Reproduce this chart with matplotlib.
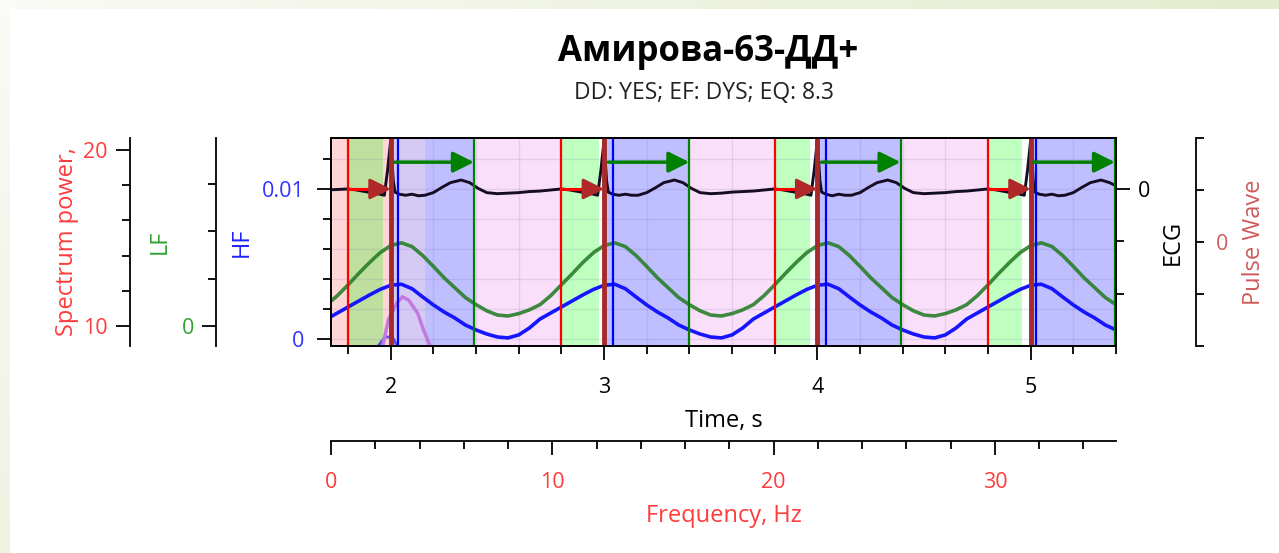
import numpy as np
import matplotlib.pyplot as plt
from matplotlib.ticker import MultipleLocator, FixedLocator, FuncFormatter

plt.rcParams['font.family'] = ['Open Sans', 'DejaVu Sans']

title = 'Амирова-63-ДД+'
subtitle = 'DD: YES; EF: DYS; EQ: 8.3'

# cardiac cycle markers, s
r_peaks = [2.0, 3.0, 4.0, 5.0]
red_lines = [1.80, 2.80, 3.80, 4.80]
blue_lines = [2.035, 3.04, 4.04, 5.025]
green_lines = [2.39, 3.40, 4.39, 5.395]
green_span_end = [1.965, 2.975, 3.965, 4.96]
red_span = [1.70, 2.16]

# LF / HF curves, sampled every 0.05 s from 1.70 s
t_curve = np.round(np.arange(1.70, 5.401, 0.05), 2)
lf = [0.45, 0.64, 0.87, 1.11, 1.34, 1.55, 1.70, 1.76, 1.68, 1.49,
      1.26, 1.02, 0.81, 0.60, 0.45, 0.32, 0.23, 0.21, 0.26, 0.34,
      0.45, 0.64, 0.87, 1.10, 1.34, 1.55, 1.70, 1.76, 1.68, 1.49,
      1.26, 1.02, 0.81, 0.60, 0.45, 0.32, 0.23, 0.21, 0.26, 0.34,
      0.45, 0.64, 0.87, 1.11, 1.34, 1.55, 1.70, 1.76, 1.68, 1.49,
      1.26, 1.02, 0.81, 0.60, 0.45, 0.32, 0.23, 0.21, 0.26, 0.34,
      0.45, 0.64, 0.87, 1.11, 1.34, 1.55, 1.70, 1.76, 1.68, 1.49,
      1.26, 1.02, 0.81, 0.60, 0.45]
hf = [0.00133, 0.00173, 0.00213, 0.00253, 0.00293, 0.00330, 0.00358, 0.00365, 0.00335, 0.00280,
      0.00227, 0.00180, 0.00140, 0.00093, 0.00060, 0.00033, 0.00013, 0.00007, 0.00027, 0.00073,
      0.00133, 0.00173, 0.00213, 0.00253, 0.00293, 0.00330, 0.00358, 0.00365, 0.00335, 0.00280,
      0.00227, 0.00180, 0.00140, 0.00093, 0.00060, 0.00033, 0.00013, 0.00007, 0.00027, 0.00073,
      0.00133, 0.00173, 0.00213, 0.00253, 0.00293, 0.00330, 0.00358, 0.00365, 0.00335, 0.00280,
      0.00227, 0.00180, 0.00140, 0.00093, 0.00060, 0.00033, 0.00013, 0.00007, 0.00027, 0.00073,
      0.00133, 0.00173, 0.00213, 0.00253, 0.00293, 0.00330, 0.00358, 0.00365, 0.00335, 0.00280,
      0.00227, 0.00180, 0.00140, 0.00093, 0.00060]

# ECG trace
ecg_t = [1.70, 1.75, 1.80, 1.84, 1.88, 1.92, 1.95, 1.97, 1.985, 2.00, 2.012, 2.02, 2.04, 2.07, 2.10,
         2.13, 2.16, 2.20, 2.24, 2.28, 2.33, 2.37, 2.41, 2.45, 2.50, 2.55, 2.60, 2.65, 2.70, 2.75,
         2.80, 2.84, 2.88, 2.92, 2.95, 2.97, 2.985, 3.00, 3.012, 3.02, 3.04, 3.07, 3.10,
         3.13, 3.16, 3.20, 3.24, 3.28, 3.33, 3.37, 3.41, 3.45, 3.50, 3.55, 3.60, 3.65, 3.70, 3.75,
         3.80, 3.84, 3.88, 3.92, 3.95, 3.97, 3.985, 4.00, 4.012, 4.02, 4.04, 4.07, 4.10,
         4.13, 4.16, 4.20, 4.24, 4.28, 4.33, 4.37, 4.41, 4.45, 4.50, 4.55, 4.60, 4.65, 4.70, 4.75,
         4.80, 4.84, 4.88, 4.92, 4.95, 4.97, 4.985, 5.00, 5.012, 5.02, 5.04, 5.07, 5.10,
         5.13, 5.16, 5.20, 5.24, 5.28, 5.33, 5.37, 5.40]
ecg_v = [-0.02, -0.01, 0.00, -0.02, -0.05, -0.08, -0.10, -0.12, 0.35, 0.93, 0.15, -0.06, -0.10, -0.12, -0.10,
         -0.13, -0.12, -0.07, 0.03, 0.12, 0.17, 0.12, 0.01, -0.07, -0.09, -0.08, -0.07, -0.05, -0.04, -0.02,
         0.00, -0.02, -0.05, -0.08, -0.10, -0.12, 0.35, 0.92, 0.15, -0.06, -0.10, -0.12, -0.10,
         -0.12, -0.12, -0.07, 0.02, 0.12, 0.17, 0.12, 0.01, -0.07, -0.09, -0.08, -0.06, -0.05, -0.04, -0.02,
         0.00, -0.02, -0.05, -0.08, -0.10, -0.12, 0.35, 0.93, 0.15, -0.06, -0.10, -0.13, -0.10,
         -0.12, -0.12, -0.07, 0.03, 0.12, 0.17, 0.12, 0.01, -0.07, -0.09, -0.08, -0.07, -0.05, -0.04, -0.02,
         0.00, -0.02, -0.05, -0.08, -0.10, -0.12, 0.35, 0.93, 0.15, -0.06, -0.10, -0.12, -0.10,
         -0.13, -0.12, -0.07, 0.03, 0.12, 0.17, 0.12, 0.06]

# spectrum (frequency, Hz / power)
spec_f = [2.32, 2.59, 3.0, 3.23, 3.5, 3.91, 4.18, 4.5]
spec_p = [8.75, 10.34, 11.36, 11.65, 11.48, 10.74, 9.77, 8.8]
spec2_f = [2.09, 2.45, 2.77, 3.0]
spec2_p = [8.8, 9.37, 9.37, 8.85]

W, H = 1279, 553
fig = plt.figure(figsize=(W / 100, H / 100), dpi=100)

# page background strips
top = fig.add_axes([0, 1 - 9 / H, 1, 9 / H], zorder=-5)
top.imshow(np.linspace([250, 250, 246], [228, 236, 206], 100)[None] / 255, aspect='auto')
top.axis('off')
left = fig.add_axes([0, 0, 10 / W, 1 - 9 / H], zorder=-5)
left.imshow(np.linspace([250, 250, 246], [238, 243, 225], 100)[:, None] / 255, aspect='auto')
left.axis('off')

rect = [331 / W, 1 - 346 / H, 785 / W, 208 / H]
ax = fig.add_axes(rect)
lw_sp = 1.3
TS = 15.5   # tick label size
LS = 17     # axis label size

def style(a):
    a.tick_params(which='major', length=10, width=lw_sp, labelsize=TS)
    a.tick_params(which='minor', length=6, width=lw_sp)
    for s in a.spines.values():
        s.set_linewidth(lw_sp)

# main axes: time / HF
ax.set_xlim(1.72, 5.40)
ax.set_ylim(-0.00047, 0.0134)
ax.xaxis.set_major_locator(MultipleLocator(1))
ax.xaxis.set_minor_locator(MultipleLocator(0.2))
ax.yaxis.set_major_locator(MultipleLocator(0.01))
ax.yaxis.set_minor_locator(MultipleLocator(0.002))
ax.yaxis.set_major_formatter(FuncFormatter(lambda v, p: f'{v:g}'))
ax.grid(which='both', color='#7060b0', alpha=0.15, lw=1)
style(ax)
ax.tick_params(axis='x', pad=12)
ax.tick_params(axis='y', labelcolor='#3333ff', pad=9)
ax.set_xlabel('Time, s', fontsize=LS, labelpad=8)
ax.set_ylabel('HF', color='#2222ff', fontsize=LS, labelpad=6)

# background phases
ax.axvspan(red_span[0], r_peaks[0], color='#ff3030', alpha=0.2, lw=0)
for i in range(len(r_peaks)):
    ax.axvspan(red_lines[i], green_span_end[i], color='#00ff00', alpha=0.25, lw=0)
    ax.axvspan(r_peaks[i] + 0.01, green_lines[i], color='#0000ff', alpha=0.25, lw=0)
    if i + 1 < len(r_peaks):
        ax.axvspan(green_lines[i], red_lines[i + 1], color='violet', alpha=0.25, lw=0)
ax.axvspan(r_peaks[0], red_span[1], color='#ffe0e0', alpha=0.35, lw=0)

ax.plot(t_curve, hf, color='#1515ff', lw=2.6, zorder=3, solid_joinstyle='round')

# LF axis
ax_lf = ax.twinx()
ax_lf.set_ylim(-0.426, 3.98)
for s in ['right', 'top', 'bottom']:
    ax_lf.spines[s].set_visible(False)
ax_lf.spines['left'].set_position(('axes', -0.1465))
ax_lf.yaxis.set_ticks_position('left')
ax_lf.yaxis.set_label_position('left')
ax_lf.yaxis.set_major_locator(FixedLocator([0]))
ax_lf.yaxis.set_minor_locator(MultipleLocator(1))
style(ax_lf)
ax_lf.tick_params(axis='y', labelcolor='#33a033', pad=6)
ax_lf.set_ylabel('LF', color='#33a033', fontsize=LS, labelpad=7)
ax_lf.plot(t_curve, lf, color='#2a7f2a', lw=2.6, alpha=0.9, solid_joinstyle='round')

# spectrum axes: frequency / power
ax_sp = fig.add_axes(rect)
ax_sp.patch.set_visible(False)
for s in ['right', 'top']:
    ax_sp.spines[s].set_visible(False)
ax_sp.spines['left'].set_position(('axes', -0.256))
ax_sp.spines['bottom'].set_position(('axes', -0.457))
ax_sp.set_xlim(0, 35.47)
ax_sp.set_ylim(8.86, 20.68)
ax_sp.xaxis.set_major_locator(MultipleLocator(10))
ax_sp.xaxis.set_minor_locator(MultipleLocator(2))
ax_sp.yaxis.set_major_locator(MultipleLocator(10))
ax_sp.yaxis.set_minor_locator(MultipleLocator(2))
style(ax_sp)
ax_sp.tick_params(axis='x', labelcolor='#ff3b3b', pad=12)
ax_sp.tick_params(axis='y', labelcolor='#ff3b3b', pad=6)
ax_sp.set_xlabel('Frequency, Hz', color='#ff3b3b', fontsize=LS, labelpad=8)
ax_sp.set_ylabel('Spectrum power,', color='#ff3b3b', fontsize=LS, labelpad=3)
ax_sp.plot(spec2_f, spec2_p, color='#3030ff', lw=2, alpha=0.8)
ax_sp.plot(spec_f, spec_p, color='#c07ae0', lw=2.5)

# pulse wave axis
ax_pw = ax.twinx()
ax_pw.set_ylim(-2, 2)
for s in ['left', 'top', 'bottom']:
    ax_pw.spines[s].set_visible(False)
ax_pw.spines['right'].set_position(('axes', 1.1019))
ax_pw.yaxis.set_major_locator(FixedLocator([0]))
ax_pw.yaxis.set_minor_locator(FixedLocator([-2, -1, 1, 2]))
style(ax_pw)
ax_pw.tick_params(which='both', length=6)
ax_pw.tick_params(axis='y', labelcolor='indianred', pad=8)
ax_pw.set_ylabel('Pulse Wave', color='indianred', fontsize=LS, labelpad=10)

# ECG axis (on top)
ax_ecg = ax.twinx()
ax_ecg.set_ylim(-2.99, 0.97)
ax_ecg.yaxis.set_major_locator(FixedLocator([0]))
ax_ecg.yaxis.set_minor_locator(MultipleLocator(1))
style(ax_ecg)
ax_ecg.tick_params(axis='y', pad=6)
ax_ecg.set_ylabel('ECG', fontsize=LS, labelpad=7)
ax_ecg.plot(ecg_t, ecg_v, color='#160c24', lw=2.1, solid_joinstyle='round')

for i in range(len(r_peaks)):
    ax_ecg.axvline(red_lines[i], color='red', lw=1.6)
    ax_ecg.axvline(green_lines[i], color='green', lw=1.6)
    ax_ecg.axvline(blue_lines[i], color='blue', lw=1.6)
    ax_ecg.axvline(r_peaks[i], color='#a52a2a', lw=3.5)
    ax_ecg.plot([red_lines[i], r_peaks[i] - 0.06], [0, 0], color='red', lw=2.2)
    ax_ecg.annotate('', xy=(r_peaks[i], 0), xytext=(r_peaks[i] - 0.07, 0),
                    arrowprops=dict(arrowstyle='-|>,head_length=0.9,head_width=0.45',
                                    color='#b02828', lw=2.2, shrinkA=0, shrinkB=0,
                                    mutation_scale=14))
    ax_ecg.annotate('', xy=(green_lines[i], 0.51),
                    xytext=((r_peaks[i] + blue_lines[i]) / 2, 0.51),
                    arrowprops=dict(arrowstyle='-|>,head_length=0.9,head_width=0.45',
                                    color='green', lw=2.5, shrinkA=0, shrinkB=0,
                                    mutation_scale=14))

fig.text(708 / W, 1 - 52 / H, title, ha='center', va='center', fontsize=25, fontweight='bold')
fig.text(704 / W, 1 - 93 / H, subtitle, ha='center', va='center', fontsize=16.5, color='#222222')

fig.savefig('out.png', dpi=100)
